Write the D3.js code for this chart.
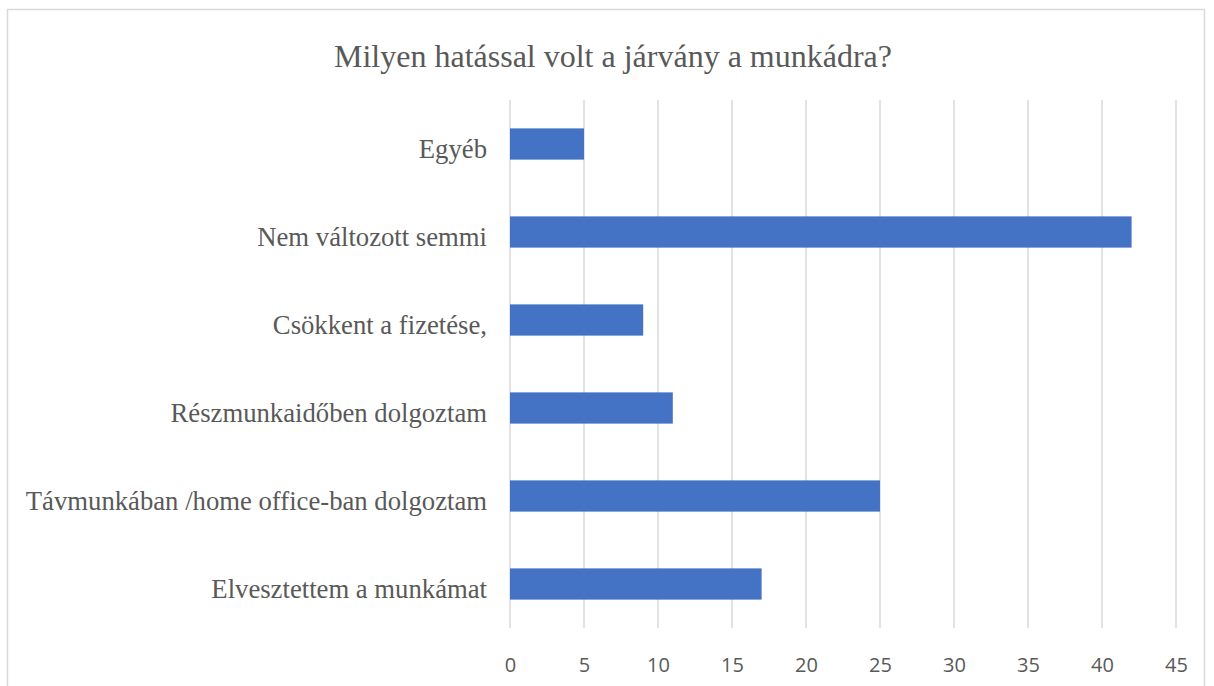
<!DOCTYPE html>
<html lang="hu">
<head>
<meta charset="UTF-8">
<title>Milyen hatással volt a járvány a munkádra?</title>
<script src="https://d3js.org/d3.v7.min.js"></script>
<style>
body { margin: 0; background: #fff; }
.title { font-family: 'Liberation Serif', 'Times New Roman', serif; font-size: 32px; fill: #595959; text-anchor: middle; }
.cat { font-family: 'Liberation Serif', 'Times New Roman', serif; font-size: 26.7px; fill: #595959; text-anchor: end; }
.tick text { font-family: 'Open Sans', 'Noto Sans', sans-serif; font-size: 20px; fill: #595959; }
</style>
</head>
<body>
<svg width="1214" height="686"></svg>
<script>
var categories = ["Egyéb", "Nem változott semmi", "Csökkent a fizetése,", "Részmunkaidőben dolgoztam", "Távmunkában /home office-ban dolgoztam", "Elvesztettem a munkámat"];
var values = [5, 42, 9, 11, 25, 17];
var ticks = [0, 5, 10, 15, 20, 25, 30, 35, 40, 45];

var svg = d3.select("svg");

// chart frame
svg.append("rect")
    .attr("x", 7.5).attr("y", 9.5)
    .attr("width", 1197).attr("height", 700)
    .attr("fill", "none")
    .attr("stroke", "#d9d9d9")
    .attr("stroke-width", 1.5);

svg.append("text")
    .attr("class", "title")
    .attr("x", 613).attr("y", 67)
    .text("Milyen hatással volt a járvány a munkádra?");

var x = d3.scaleLinear().domain([0, 45]).range([510, 1176]);
var y = d3.scaleBand().domain(categories).range([100, 628]).paddingInner(0.645).paddingOuter(0.3225);

// gridlines
svg.append("g").selectAll("line")
    .data(ticks)
    .enter().append("line")
    .attr("x1", function(d) { return x(d); })
    .attr("x2", function(d) { return x(d); })
    .attr("y1", 100).attr("y2", 628)
    .attr("stroke", "#d9d9d9")
    .attr("stroke-width", 1.5);

// bars
svg.append("g").selectAll("rect")
    .data(values)
    .enter().append("rect")
    .attr("x", x(0))
    .attr("y", function(d, i) { return y(categories[i]); })
    .attr("width", function(d) { return x(d) - x(0); })
    .attr("height", y.bandwidth())
    .attr("fill", "#4472c4");

// category labels
svg.append("g").selectAll("text")
    .data(categories)
    .enter().append("text")
    .attr("class", "cat")
    .attr("x", 487)
    .attr("y", function(d) { return y(d) + y.bandwidth() / 2 + 14; })
    .text(function(d) { return d; });

// value axis
var axis = svg.append("g")
    .attr("transform", "translate(0,655)")
    .call(d3.axisBottom(x).tickValues(ticks).tickSize(0).tickPadding(3));
axis.select(".domain").remove();
</script>
</body>
</html>
